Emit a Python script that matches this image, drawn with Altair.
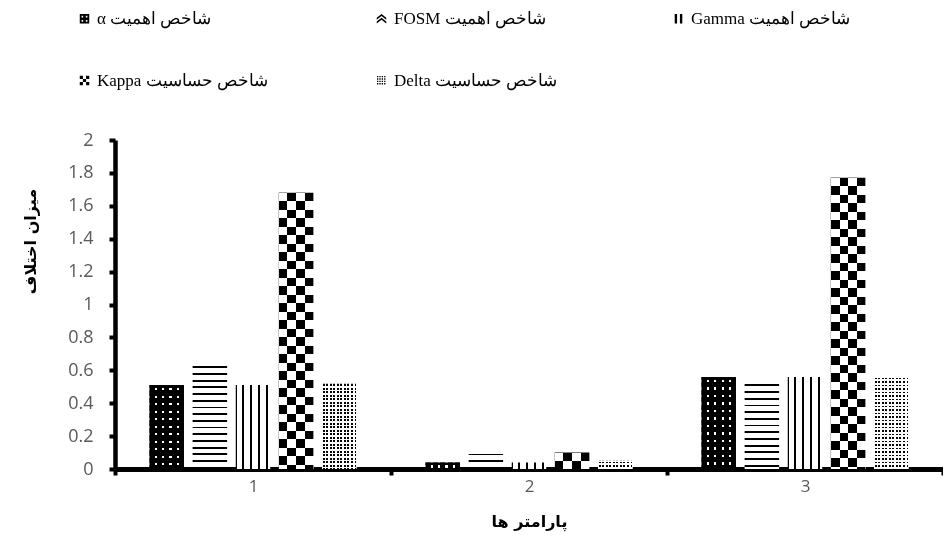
import altair as alt
import pandas as pd

# ---------------- data ----------------
groups = ["1", "2", "3"]
series = ["\u202Bشاخص اهمیت α\u202C", "\u202Bشاخص اهمیت FOSM\u202C", "\u202Bشاخص اهمیت Gamma\u202C",
          "\u202Bشاخص حساسیت Kappa\u202C", "\u202Bشاخص حساسیت Delta\u202C"]
alpha_vals = [0.51, 0.04, 0.56]
fosm_vals = [0.63, 0.10, 0.52]
gamma_vals = [0.51, 0.04, 0.56]
kappa_vals = [1.68, 0.10, 1.77]
delta_vals = [0.52, 0.05, 0.56]
y_ticks = [0, 0.2, 0.4, 0.6, 0.8, 1.0, 1.2, 1.4, 1.6, 1.8, 2.0]
y_title = "میزان اختلاف"
x_title = "پارامتر ها"

all_vals = [alpha_vals, fosm_vals, gamma_vals, kappa_vals, delta_vals]
rows = []
for si, s in enumerate(series):
    for gi, g in enumerate(groups):
        rows.append({"g": g, "s": s, "si": si, "gi": gi, "v": all_vals[si][gi]})
df = pd.DataFrame(rows)

# ---------------- geometry (for pattern scaling only) ----------------
W, H = 828, 329
YMAX = 2.0
O_PI, O_PO = 0.2, 0.8
step = W / 3
BW = step / (5 - O_PI + 2 * O_PO) * (1 - O_PI)


def stripe_segs(L, period, on, start, c_on, c_off):
    segs = []
    cur = 0.0
    s = start
    while s > 0:
        s -= period
    while cur < L - 1e-9:
        if s + on <= cur:
            s += period
            continue
        if s > cur:
            e = min(s, L)
            segs.append((cur, e, c_off))
            cur = e
            continue
        e = min(s + on, L)
        segs.append((cur, e, c_on))
        cur = e
        s += period
    return segs


def grad(L, period, on, start, c_on, c_off, vertical=False):
    stops = []
    for a, b, c in stripe_segs(L, period, on, start, c_on, c_off):
        stops.append({"offset": round(max(0.0, min(1.0, a / L)), 5), "color": c})
        stops.append({"offset": round(max(0.0, min(1.0, b / L)), 5), "color": c})
    return {"gradient": "linear", "x1": 0, "y1": 0, "x2": 0 if vertical else 1,
            "y2": 1 if vertical else 0, "stops": stops}


def bar_h(v):
    return max(v / YMAX * H, 0.5)


def sq(x0, y0, x1, y1, ccw=False):
    if ccw:
        return f"M{x0},{y0}L{x0},{y1}L{x1},{y1}L{x1},{y0}Z"
    return f"M{x0},{y0}L{x1},{y0}L{x1},{y1}L{x0},{y1}Z"


# legend icon shapes (unit square -1..1)
icon_alpha = sq(-1, -1, 1, 1) + "".join(
    sq(cx - 0.17, cy - 0.17, cx + 0.17, cy + 0.17, ccw=True)
    for cx in (-0.45, 0.45) for cy in (-0.45, 0.45))
icon_fosm = ("M-1,-0.2L0,-1L1,-0.2L1,0.2L0,-0.6L-1,0.2Z"
             "M-1,0.6L0,-0.2L1,0.6L1,1L0,0.2L-1,1Z")
icon_gamma = sq(-0.8, -1, -0.3, 1) + sq(0.3, -1, 0.8, 1)
c3 = [-1, -1 / 3, 1 / 3, 1]
icon_kappa = "".join(sq(round(c3[i], 3), round(c3[j], 3), round(c3[i + 1], 3), round(c3[j + 1], 3))
                     for i in range(3) for j in range(3) if (i + j) % 2 == 0)
icon_delta = "".join(sq(round(x, 3), round(y, 3), round(x + 0.28, 3), round(y + 0.28, 3))
                     for x in (-0.95, -0.45, 0.05, 0.55) for y in (-0.95, -0.45, 0.05, 0.55))
icons = [icon_alpha, icon_fosm, icon_gamma, icon_kappa, icon_delta]

x_axis = alt.Axis(title=x_title, labelAngle=0, labelColor="#595959",
                  labelFont="Open Sans", labelFontSize=17, labelPadding=3,
                  domainColor="black", domainWidth=5, tickColor="black",
                  tickWidth=4, tickSize=6, tickBand="extent",
                  titleFont="DejaVu Sans", titleFontWeight="bold",
                  titleFontSize=16, titleColor="black", titleY=52,
                  titleBaseline="middle")
y_axis = alt.Axis(title=y_title, values=y_ticks, format=".1~f", grid=False,
                  labelOverlap=False,
                  labelColor="#595959", labelFont="Open Sans", labelFontSize=18,
                  labelPadding=16, domainColor="black", domainWidth=4.5,
                  tickColor="black", tickWidth=4, tickSize=6,
                  titleFont="DejaVu Sans", titleFontWeight="bold",
                  titleFontSize=16, titleColor="black", titleX=-85, titleY=101,
                  titleAngle=270, titleBaseline="middle", titleAlign="center")
y_scale = alt.Scale(domain=[0, YMAX], nice=False)

x_enc = alt.X("g:N", sort=groups, scale=alt.Scale(paddingInner=0, paddingOuter=0), axis=x_axis)
xo_enc = alt.XOffset("s:N", sort=series,
                     scale=alt.Scale(domain=series, paddingInner=O_PI, paddingOuter=O_PO))
y_enc = alt.Y("v:Q", scale=y_scale, axis=y_axis)


# bar layers carrying the patterns
def layer(si, fill, gi=None, blend=None):
    kw = {"fill": fill}
    if blend:
        kw["blend"] = blend
    if gi is None:
        flt = f"datum.si == {si}"
    else:
        flt = f"datum.si == {si} && datum.gi == {gi}"
    return alt.Chart(df).mark_bar(**kw).encode(x=x_enc, xOffset=xo_enc, y=y_enc).transform_filter(flt)


layers = []
# alpha: black with white dots
layers.append(layer(0, grad(BW, 7.5, 2.2, 5.0, "white", "black")))
# gamma: white with black vertical lines
layers.append(layer(2, grad(BW, 7.8, 2.2, 6.5, "black", "white")))
# kappa base: black/white columns
layers.append(layer(3, grad(BW, 2 * BW / 4, BW / 4, 0, "black", "white")))
# delta base: fine black columns
layers.append(layer(4, grad(BW, 3.5, 1.6, 1.0, "black", "white")))

for gi in range(3):
    h = bar_h(alpha_vals[gi])
    layers.append(layer(0, grad(h, 7.5, 2.2, 3.0, "white", "black", vertical=True), gi, "darken"))
    h = bar_h(fosm_vals[gi])
    layers.append(layer(1, grad(h, 6.7, 1.8, 1.0, "black", "white", vertical=True), gi))
    h = bar_h(kappa_vals[gi])
    layers.append(layer(3, grad(h, 17.0, 8.5, 0, "white", "black", vertical=True), gi, "difference"))
    h = bar_h(delta_vals[gi])
    layers.append(layer(4, grad(h, 3.5, 1.6, 1.0, "black", "white", vertical=True), gi, "lighten"))

# point layer hidden under the bars; it carries the legend
legend_layer = alt.Chart(df).transform_calculate(mid="datum.v / 2").mark_point(
    filled=True, fill="black", size=3, opacity=1, strokeWidth=0
).encode(
    x=x_enc, xOffset=xo_enc,
    y=alt.Y("mid:Q", scale=y_scale, axis=y_axis),
    shape=alt.Shape("s:N", sort=series,
                    scale=alt.Scale(domain=series, range=icons),
                    legend=alt.Legend(orient="none", legendX=-39, legendY=-130,
                                      direction="horizontal", columns=3, columnPadding=105,
                                      gridAlign="all",
                                      rowPadding=44, symbolSize=90,
                                      symbolFillColor="black", symbolStrokeWidth=0,
                                      labelFont="Liberation Serif", labelFontSize=17,
                                      labelColor="black", labelLimit=400, title=None)),
)

chart = alt.layer(layers[0], legend_layer, *layers[1:]).properties(
    width=W, height=H,
    padding={"left": 107, "top": 132, "right": 0, "bottom": 74},
    autosize=alt.AutoSizeParams(type="none"),
    background="white",
).configure_view(strokeWidth=0)

chart.save("out.html", embed_options={"renderer": "svg", "actions": False})
